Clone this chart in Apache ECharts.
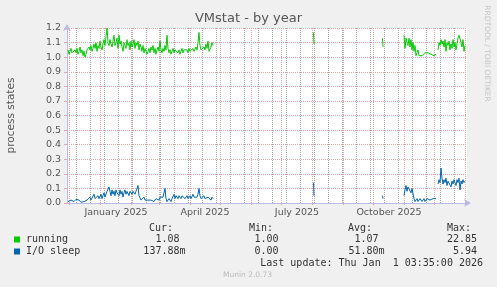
<!DOCTYPE html>
<html><head><meta charset="utf-8">
<script src="https://cdn.jsdelivr.net/npm/echarts@6/dist/echarts.min.js"></script>
<style>html,body{margin:0;padding:0;background:#f0f0f0}#c{width:497px;height:287px}</style>
</head><body><div id="c"></div>
<script>
// ---------------- data ----------------
const chartTitle = 'VMstat - by year';
const yAxisName = 'process states';
const axisStart = '2024-11-28T12:00:00Z';
const axisDays = 400;
const yMin = 0, yMax = 1.2, yStep = 0.1;
const xLabelNames = ['January 2025', 'April 2025', 'July 2025', 'October 2025'];
const xLabelDates = ['2025-01-16T12:00:00Z', '2025-04-15T12:00:00Z', '2025-07-16T12:00:00Z', '2025-10-16T12:00:00Z'];
const seriesNames = ['running', 'I/O sleep'];

// segments: start date, step (hours), values
const seg1Start = '2024-11-29T12:00:00Z';
const running1 = [
 1.05,1.02,1.04,1.06,1.03,1.04,1.02,
 1.05,1.03,1.06,1.02,1.04,1.07,1.03,1.05,1.01,1.04,
 1.00,1.02,1.05,1.04,1.07,1.05,1.08,1.04,1.06,1.09,
 1.06,1.10,1.04,1.08,1.06,1.11,1.07,1.05,1.09,1.12,
 1.08,1.14,1.20,
 1.10,1.08,1.12,1.09,1.07,1.11,1.15,1.08,1.10,1.13,
 1.06,1.15,1.09,1.11,1.07,1.04,1.10,1.08,1.06,1.12,
 1.08,1.10,1.05,1.11,1.07,1.09,1.12,1.06,1.10,1.08,
 1.11,1.05,1.09,1.07,1.04,1.08,1.03,1.06,1.05,1.02,
 1.04,1.06,1.03,1.07,1.05,1.08,1.03,1.06,1.02,1.05,
 1.07,1.04,1.11,1.05,1.03,1.06,1.04,1.08,1.05,1.15,
 1.06,1.03,1.05,1.02,1.04,1.06,1.03,1.05,1.04,1.06,
 1.03,1.05,1.02,1.04,1.06,1.03,1.05,1.04,1.06,1.05,
 1.03,1.06,1.04,1.05,1.03,1.06,1.04,1.05,1.07,1.05,
 1.10,1.17,1.08,1.05,1.06,1.04,1.07,1.05,1.09,1.06,
 1.11,1.04,1.03,1.07,1.10,1.08
];
const io1 = [
 0.01,0.015,0.01,0.02,0.015,0.02,0.01,0.02,0.025,0.02,
 0.03,0.02,0.01,0.005,0.01,0.015,0.01,0.02,0.01,0.02,
 0.03,0.02,0.04,0.02,0.03,0.02,0.06,0.03,0.04,0.02,
 0.05,0.03,0.04,0.06,0.03,0.05,0.07,0.04,0.05,0.08,
 0.07,0.11,0.08,0.05,0.09,0.06,0.08,0.05,0.09,0.07,
 0.08,0.05,0.09,0.06,0.08,0.04,0.07,0.09,0.06,0.08,
 0.07,0.05,0.08,0.07,0.06,0.08,0.07,0.06,0.08,0.08,
 0.12,0.05,0.04,0.02,0.03,0.02,0.04,0.02,0.03,0.01,
 0.02,0.03,0.01,0.02,0.03,0.02,0.01,0.02,0.03,0.02,
 0.03,0.02,0.04,0.03,0.05,0.04,0.03,0.10,0.03,0.01,
 0.02,0.03,0.02,0.01,0.03,0.04,0.06,0.03,0.05,0.04,
 0.03,0.05,0.04,0.03,0.05,0.04,0.06,0.03,0.04,0.05,
 0.03,0.04,0.05,0.03,0.04,0.06,0.04,0.03,0.05,0.04,
 0.06,0.10,0.05,0.03,0.04,0.03,0.05,0.03,0.04,0.02,
 0.04,0.03,0.05,0.02,0.04,0.03
];
const seg2Start = '2025-08-02T00:00:00Z';
const running2 = [1.17, 1.09];
const io2 = [0.14, 0.05];
const seg3Start = '2025-10-10T00:00:00Z';
const running3 = [1.13, 1.07];
const io3 = [0.05, 0.03];
const seg4Start = '2025-10-31T12:00:00Z';
const running4 = [
 1.15,1.06,1.13,1.10,1.08,1.13,1.07,1.12,1.05,1.10,
 1.04,1.08,1.01,1.03,1.05,1.01,1.00,1.02,1.01,1.00,
 1.02,1.03,1.02,1.02,1.03,1.02,1.03,1.02,1.02,1.03,
 1.01,1.02,1.02
];
const io4 = [
 0.05,0.09,0.12,0.08,0.11,0.10,0.11,0.07,0.10,0.09,
 0.03,0.01,0.02,0.03,0.01,0.02,0.03,0.02,0.01,0.02,
 0.03,0.01,0.02,0.03,0.02,0.03,0.02,0.03,0.02,0.03,
 0.02,0.03,0.03
];
const seg5Start = '2025-12-04T12:00:00Z';
const running5 = [
 1.05,1.10,1.08,1.12,1.09,1.11,1.07,1.12,1.04,1.10,
 1.08,1.11,1.05,1.09,1.06,1.12,1.07,1.10,1.05,1.09,
 1.13,1.15,1.15,1.10,1.07,1.12,1.04,1.08
];
const io5 = [
 0.13,0.16,0.14,0.24,0.17,0.13,0.16,0.14,0.17,0.12,
 0.15,0.14,0.16,0.11,0.15,0.13,0.16,0.14,0.12,0.16,
 0.14,0.17,0.09,0.15,0.13,0.16,0.14,0.15
];

const statHeaders = ['Cur:', 'Min:', 'Avg:', 'Max:'];
const runningStats = ['1.08 ', '1.00 ', '1.07 ', '22.85 '];
const ioStats = ['137.88m', '0.00 ', '51.80m', '5.94 '];
const lastUpdate = 'Last update: Thu Jan  1 03:35:00 2026';
const footer = 'Munin 2.0.73';
const sideText = 'RRDTOOL / TOBI OETIKER';

// ---------------- build ----------------
const DAY = 86400000;
const tMin = Date.parse(axisStart);
const tMax = tMin + axisDays * DAY;

function buildSeries(segs) {
  const out = [];
  segs.forEach(([start, step, vals], k) => {
    const t0 = Date.parse(start);
    if (k > 0) out.push([t0 - 3600000, '-']);
    vals.forEach((v, i) => out.push([t0 + i * step * 3600000, v]));
  });
  return out;
}
const runningData = buildSeries([[seg1Start, 24, running1], [seg2Start, 12, running2], [seg3Start, 12, running3], [seg4Start, 24, running4], [seg5Start, 24, running5]]);
const ioData = buildSeries([[seg1Start, 24, io1], [seg2Start, 12, io2], [seg3Start, 12, io3], [seg4Start, 24, io4], [seg5Start, 24, io5]]);

// grid positions
const monthStarts = [];
for (let y = 2024, m = 11; ; ) {
  const t = Date.UTC(y, m, 1);
  if (t > tMax) break;
  if (t >= tMin) monthStarts.push(t);
  m++; if (m > 11) { m = 0; y++; }
}
const minorLines = [];
for (let t = Date.parse('2024-12-08T00:00:00Z'); t < tMax; t += 14 * DAY) minorLines.push(t);
const labelTs = xLabelDates.map(d => Date.parse(d));

const FONT = 'DejaVu Sans';
const MONO = 'DejaVu Sans Mono';
const axisCol = '#b8bce8';
const majorCol = '#e8a6a6';
const minorCol = '#a8a8a8';

const chart = echarts.init(document.getElementById('c'), null, {renderer: 'canvas'});
const colX = [185.5, 284.5, 384.5, 483];
const headX = [149, 249, 348, 447];
const graphics = [];
statHeaders.forEach((h, i) => graphics.push({type: 'text', x: headX[i], y: 228.5, style: {text: h, font: '10px ' + MONO, fill: '#333', textAlign: 'left', textVerticalAlign: 'middle'}}));
runningStats.forEach((s, i) => graphics.push({type: 'text', x: colX[i], y: 239.5, style: {text: s, font: '10px ' + MONO, fill: '#333', textAlign: 'right', textVerticalAlign: 'middle'}}));
ioStats.forEach((s, i) => graphics.push({type: 'text', x: colX[i], y: 251.5, style: {text: s, font: '10px ' + MONO, fill: '#333', textAlign: 'right', textVerticalAlign: 'middle'}}));
graphics.push({type: 'text', x: 483, y: 263.5, style: {text: lastUpdate, font: '10px ' + MONO, fill: '#333', textAlign: 'right', textVerticalAlign: 'middle'}});
graphics.push({type: 'text', x: 247.5, y: 275.5, style: {text: footer, font: '7.5px ' + FONT, fill: '#bbbbbb', textAlign: 'center', textVerticalAlign: 'middle'}});
graphics.push({type: 'text', x: 487, y: 53.5, rotation: -Math.PI / 2, style: {text: sideText, font: '7.5px ' + FONT, fill: '#c4c4c4', textAlign: 'center', textVerticalAlign: 'middle'}});

chart.setOption({
  animation: false,
  backgroundColor: '#f0f0f0',
  title: {text: chartTitle, left: 'center', top: 12, padding: 0,
    textStyle: {fontFamily: FONT, fontSize: 13, fontWeight: 'normal', color: '#555'}},
  grid: {left: 67, right: 30, top: 28, height: 175, show: true, backgroundColor: '#ffffff', borderWidth: 0,
    containLabel: false, outerBoundsMode: 'none'},
  legend: {orient: 'vertical', left: 14, top: 233.5, padding: 0, itemGap: 0, itemWidth: 6, itemHeight: 6,
    icon: 'rect', selectedMode: false,
    textStyle: {fontFamily: MONO, fontSize: 10, color: '#333', lineHeight: 12, padding: [0,0,0,1]},
    data: seriesNames},
  xAxis: [{
    type: 'value', min: tMin, max: tMax, position: 'bottom',
    axisLine: {show: false}, axisLabel: {show: false},
    axisTick: {show: true, customValues: minorLines, lineStyle: {color: 'rgba(255,255,255,0)'}},
    splitLine: {show: true, lineStyle: {color: minorCol, width: 1, type: [1, 1]}}
  }, {
    type: 'value', min: tMin, max: tMax, position: 'bottom',
    axisLine: {show: true, lineStyle: {color: axisCol, width: 1}, symbol: ['none', 'arrow'], symbolSize: [6, 7], symbolOffset: [0, 4]},
    axisTick: {show: true, customValues: monthStarts, length: 2, lineStyle: {color: majorCol}},
    axisLabel: {show: true, customValues: labelTs, margin: 5, fontFamily: FONT, fontSize: 9.5, color: '#555',
      formatter: v => { const i = labelTs.indexOf(v); return i >= 0 ? xLabelNames[i] : ''; }},
    splitLine: {show: true, lineStyle: {color: majorCol, width: 1, type: [1, 1]}}
  }],
  yAxis: {
    type: 'value', min: yMin, max: yMax, interval: yStep,
    name: yAxisName, nameLocation: 'middle', nameRotate: 90, nameGap: 50,
    nameTextStyle: {fontFamily: FONT, fontSize: 10.5, color: '#555'},
    axisLine: {show: true, lineStyle: {color: axisCol, width: 1}, symbol: ['none', 'arrow'], symbolSize: [6, 7], symbolOffset: [0, 4]},
    axisTick: {show: true, length: 3, lineStyle: {color: majorCol}},
    axisLabel: {fontFamily: FONT, fontSize: 9.5, color: '#555', margin: 6, formatter: v => v.toFixed(1)},
    splitLine: {show: true, lineStyle: {color: majorCol, width: 1, type: [1, 1]}}
  },
  series: [
    {name: seriesNames[0], type: 'line', xAxisIndex: 1, data: runningData, showSymbol: false, connectNulls: false,
      color: '#00cc00', lineStyle: {color: '#00cc00', width: 1}, z: 3},
    {name: seriesNames[1], type: 'line', xAxisIndex: 1, data: ioData, showSymbol: false, connectNulls: false,
      color: '#0066b3', lineStyle: {color: '#0066b3', width: 1}, z: 3}
  ],
  graphic: graphics
});
</script></body></html>
